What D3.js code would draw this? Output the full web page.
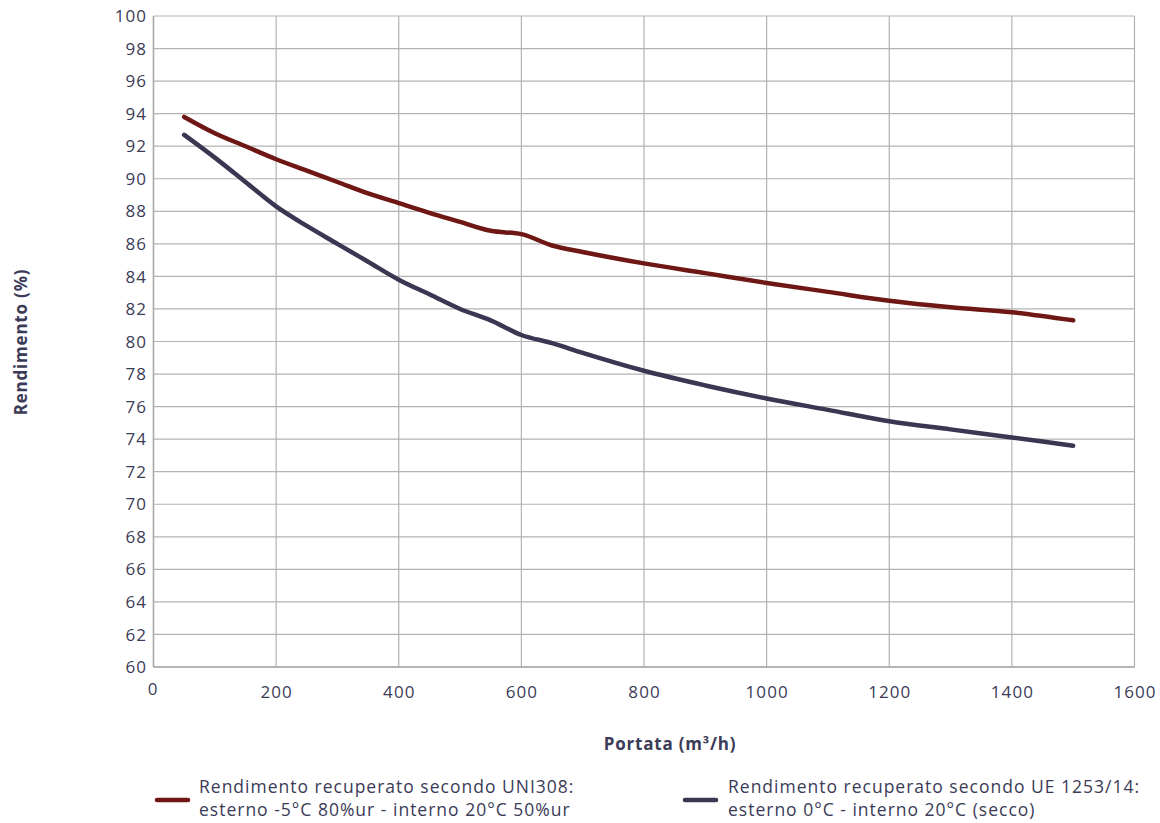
<!DOCTYPE html>
<html><head><meta charset="utf-8">
<script src="https://cdn.jsdelivr.net/npm/d3@7"></script>
<style>
body{margin:0;background:#fff;}
text{font-family:"Open Sans",Lato,sans-serif;fill:#3b3b57;}
</style></head><body>
<svg id="c" width="1160" height="823"></svg>
<script>
const xTicks=[0,200,400,600,800,1000,1200,1400,1600];
const yTicks=[60,62,64,66,68,70,72,74,76,78,80,82,84,86,88,90,92,94,96,98,100];
const xRed=[50,100,150,200,250,300,350,400,450,500,550,600,650,700,800,900,1000,1100,1200,1300,1400,1500];
const yRed=[93.8,92.8,92.0,91.2,90.5,89.8,89.1,88.5,87.9,87.35,86.8,86.6,85.9,85.5,84.8,84.2,83.6,83.05,82.5,82.1,81.8,81.3];
const xBlue=[50,100,150,200,250,300,350,400,450,500,550,600,650,700,800,900,1000,1100,1200,1300,1400,1500];
const yBlue=[92.7,91.3,89.8,88.3,87.1,86.0,84.9,83.8,82.9,82.0,81.3,80.4,79.9,79.3,78.2,77.3,76.5,75.8,75.1,74.6,74.1,73.6];
const seriesNames=[["Rendimento recuperato secondo UNI308:","esterno -5°C 80%ur - interno 20°C 50%ur"],["Rendimento recuperato secondo UE 1253/14:","esterno 0°C - interno 20°C (secco)"]];
const colors=["#6e1714","#393751"];

const svg=d3.select("#c");
const L=153.5,R=1134.5,T=16,B=667;
const x=d3.scaleLinear().domain([0,1600]).range([L,R]);
const y=d3.scaleLinear().domain([60,100]).range([B,T]);

svg.append("g").selectAll("line").data(yTicks).join("line")
 .attr("x1",L).attr("x2",R).attr("y1",d=>y(d)).attr("y2",d=>y(d))
 .attr("stroke","#b3b3b3").attr("stroke-width",1.2);
svg.append("g").selectAll("line").data(xTicks).join("line")
 .attr("y1",T).attr("y2",B).attr("x1",d=>x(d)).attr("x2",d=>x(d))
 .attr("stroke","#b3b3b3").attr("stroke-width",1.2);
svg.append("line").attr("x1",L).attr("x2",L).attr("y1",T).attr("y2",B).attr("stroke","#a8a8a8").attr("stroke-width",1.5);
svg.append("line").attr("x1",L).attr("x2",R).attr("y1",B).attr("y2",B).attr("stroke","#a8a8a8").attr("stroke-width",1.5);

const ls=1.1;
svg.append("g").selectAll("text").data(yTicks).join("text")
 .attr("x",146+ls).attr("y",d=>y(d)).attr("dy","0.36em").attr("text-anchor","end")
 .attr("font-size",17).attr("letter-spacing",ls).text(d=>d);
svg.append("g").selectAll("text").data(xTicks).join("text")
 .attr("x",d=>x(d)-(d===0?1:0)+ls/2).attr("y",d=>d===0?695:698).attr("text-anchor","middle")
 .attr("font-size",17).attr("letter-spacing",ls).text(d=>d);

svg.append("text").attr("transform","translate(27,342) rotate(-90)").attr("text-anchor","middle")
 .attr("font-size",17).attr("font-weight","bold").attr("letter-spacing",0.8).text("Rendimento (%)");
svg.append("text").attr("x",670).attr("y",750).attr("text-anchor","middle")
 .attr("font-size",17).attr("font-weight","bold").attr("letter-spacing",0.8).text("Portata (m³/h)");

const line=d3.line().x(d=>x(d[0])).y(d=>y(d[1])).curve(d3.curveMonotoneX);
[[xRed,yRed],[xBlue,yBlue]].forEach((s,i)=>{
 svg.append("path").datum(s[0].map((v,k)=>[v,s[1][k]]))
  .attr("d",line).attr("fill","none").attr("stroke",colors[i])
  .attr("stroke-width",4.5).attr("stroke-linecap","round");
});

const lx=[157,685];
seriesNames.forEach((nm,i)=>{
 svg.append("line").attr("x1",lx[i]).attr("x2",lx[i]+31).attr("y1",800).attr("y2",800)
  .attr("stroke",colors[i]).attr("stroke-width",4.5).attr("stroke-linecap","round");
 nm.forEach((t,j)=>{
  svg.append("text").attr("x",i===0?199:728).attr("y",793+j*23).attr("font-size",17.5)
   .attr("letter-spacing",1.0).text(t);
 });
});
</script></body></html>
